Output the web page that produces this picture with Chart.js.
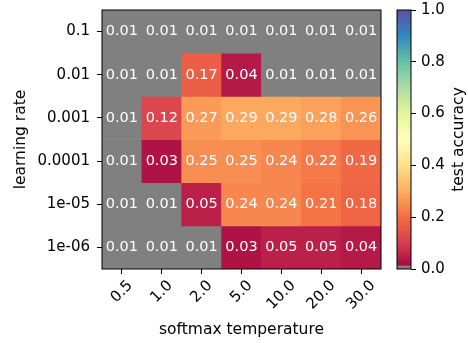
<!DOCTYPE html>
<html>
<head>
<meta charset="utf-8">
<script src="https://cdn.jsdelivr.net/npm/chart.js@4.4.1/dist/chart.umd.min.js"></script>
<style>
  html, body { margin: 0; padding: 0; background: #fff; }
  #wrap { position: relative; width: 468px; height: 343px; }
  #wrap canvas { position: absolute; left: 0; top: 0; }
</style>
</head>
<body>
<div id="wrap">
  <canvas id="heatmap" width="468" height="343"></canvas>
  <canvas id="colorbar" width="468" height="343"></canvas>
</div>
<script>
// columns / rows of the heatmap
var temperatures = ['0.5', '1.0', '2.0', '5.0', '10.0', '20.0', '30.0'];
var learningRates = ['0.1', '0.01', '0.001', '0.0001', '1e-05', '1e-06'];

// test accuracy, one array per learning rate (top row first)
var acc_lr_1e1 = [0.01, 0.01, 0.01, 0.01, 0.01, 0.01, 0.01];
var acc_lr_1e2 = [0.01, 0.01, 0.17, 0.04, 0.01, 0.01, 0.01];
var acc_lr_1e3 = [0.01, 0.12, 0.27, 0.29, 0.29, 0.28, 0.26];
var acc_lr_1e4 = [0.01, 0.03, 0.25, 0.25, 0.24, 0.22, 0.19];
var acc_lr_1e5 = [0.01, 0.01, 0.05, 0.24, 0.24, 0.21, 0.18];
var acc_lr_1e6 = [0.01, 0.01, 0.01, 0.03, 0.05, 0.05, 0.04];
var accuracy = [acc_lr_1e1, acc_lr_1e2, acc_lr_1e3, acc_lr_1e4, acc_lr_1e5, acc_lr_1e6];

var colorbarTicks = [0.0, 0.2, 0.4, 0.6, 0.8, 1.0];

// Spectral colormap, values below UNDER_LIMIT shown gray
var SPECTRAL = ['#9e0142', '#d53e4f', '#f46d43', '#fdae61', '#fee08b', '#ffffbf',
                '#e6f598', '#abdda4', '#66c2a5', '#3288bd', '#5e4fa2'];
var UNDER_LIMIT = 0.012;
var UNDER_COLOR = '#808080';
var FONT = { family: '"DejaVu Sans", sans-serif', size: 15 };
var TITLE_FONT = { family: '"DejaVu Sans", sans-serif', size: 15.5 };
var FONT_CSS = '15px "DejaVu Sans", sans-serif';
var TITLE_CSS = '15.5px "DejaVu Sans", sans-serif';
var CELL_CSS = '14.5px "DejaVu Sans", sans-serif';

Chart.defaults.color = '#000';

function hexToRgb(h) {
  return [parseInt(h.substr(1, 2), 16), parseInt(h.substr(3, 2), 16), parseInt(h.substr(5, 2), 16)];
}

function spectral(v) {
  v = Math.max(0, Math.min(1, v));
  var pos = v * (SPECTRAL.length - 1);
  var i = Math.floor(pos);
  if (i >= SPECTRAL.length - 1) return SPECTRAL[SPECTRAL.length - 1];
  var t = pos - i;
  var a = hexToRgb(SPECTRAL[i]);
  var b = hexToRgb(SPECTRAL[i + 1]);
  var c = a.map(function (x, k) { return Math.round(x + (b[k] - x) * t); });
  return 'rgb(' + c.join(',') + ')';
}

function cellColor(v) {
  return v < UNDER_LIMIT ? UNDER_COLOR : spectral(v);
}

// fixed axis sizes, no label overhang padding
function fixSize(prop, size) {
  return function (s) {
    s[prop] = size;
    s.paddingTop = 0;
    s.paddingBottom = 0;
    s.paddingLeft = 0;
    s.paddingRight = 0;
  };
}

var heatmapPlugin = {
  id: 'heatmapExtras',
  afterDatasetsDraw: function (chart) {
    var ctx = chart.ctx;
    var xs = chart.scales.x;
    var ys = chart.scales.y;
    ctx.save();
    ctx.font = CELL_CSS;
    ctx.fillStyle = '#fff';
    ctx.textAlign = 'center';
    ctx.textBaseline = 'middle';
    for (var r = 0; r < accuracy.length; r++) {
      for (var i = 0; i < accuracy[r].length; i++) {
        ctx.fillText(accuracy[r][i].toFixed(2), xs.getPixelForValue(i), ys.getPixelForValue(r));
      }
    }
    ctx.restore();
  },
  afterDraw: function (chart) {
    var ctx = chart.ctx;
    var a = chart.chartArea;
    var xs = chart.scales.x;
    ctx.save();
    ctx.strokeStyle = '#000';
    ctx.lineWidth = 1;
    ctx.strokeRect(a.left, a.top, a.right - a.left, a.bottom - a.top);

    // rotated, centred x tick labels
    ctx.font = FONT_CSS;
    ctx.fillStyle = '#000';
    ctx.textAlign = 'center';
    ctx.textBaseline = 'middle';
    temperatures.forEach(function (label, i) {
      var w = ctx.measureText(label).width;
      var half = (w + 15) * Math.SQRT1_2 / 2;
      ctx.save();
      ctx.translate(xs.getPixelForTick(i), a.bottom + 5 + 4 + half);
      ctx.rotate(-Math.PI / 4);
      ctx.fillText(label, 0, 0);
      ctx.restore();
    });
    ctx.restore();
  }
};

new Chart(document.getElementById('heatmap'), {
  type: 'bar',
  data: {
    labels: temperatures,
    datasets: accuracy.map(function (row, r) {
      return {
        data: row.map(function () { return [r - 0.5, r + 0.5]; }),
        backgroundColor: row.map(cellColor),
        borderWidth: 0,
        barPercentage: 1,
        categoryPercentage: 1,
        grouped: false
      };
    })
  },
  options: {
    responsive: false,
    animation: false,
    layout: { padding: { left: 0, top: 10, right: 87, bottom: 0 } },
    plugins: { legend: { display: false }, tooltip: { enabled: false } },
    scales: {
      x: {
        ticks: { display: true, minRotation: 0, maxRotation: 0, callback: function () { return ''; } },
        grid: { offset: false, drawOnChartArea: false, color: '#000', tickLength: 5 },
        border: { display: false },
        title: { display: true, text: 'softmax temperature', font: TITLE_FONT, color: '#000', padding: { top: 0, bottom: 4 } },
        afterFit: fixSize('height', 74)
      },
      y: {
        type: 'linear',
        reverse: true,
        min: -0.5,
        max: 5.5,
        afterBuildTicks: function (s) {
          s.ticks = learningRates.map(function (lr, r) { return { value: r }; });
        },
        ticks: {
          padding: 7,
          font: FONT,
          callback: function (v) { return learningRates[Math.round(v)]; }
        },
        grid: { drawOnChartArea: false, color: '#000', tickLength: 5 },
        border: { display: false },
        title: { display: true, text: 'learning rate', font: TITLE_FONT, color: '#000', padding: { top: 12, bottom: 0 } },
        afterFit: fixSize('width', 102)
      }
    }
  },
  plugins: [heatmapPlugin]
});

function colorbarGradient(context) {
  var chart = context.chart;
  var a = chart.chartArea;
  if (!a) return SPECTRAL[0];
  var ys = chart.scales.y;
  var g = chart.ctx.createLinearGradient(0, ys.getPixelForValue(0), 0, ys.getPixelForValue(1));
  SPECTRAL.forEach(function (c, i) { g.addColorStop(i / (SPECTRAL.length - 1), c); });
  return g;
}

var colorbarPlugin = {
  id: 'colorbarExtras',
  afterDraw: function (chart) {
    var ctx = chart.ctx;
    var a = chart.chartArea;
    ctx.save();
    ctx.strokeStyle = '#000';
    ctx.lineWidth = 1;
    ctx.strokeRect(a.left, a.top, a.right - a.left, a.bottom - a.top);
    ctx.font = TITLE_CSS;
    ctx.fillStyle = '#000';
    ctx.textAlign = 'center';
    ctx.textBaseline = 'middle';
    ctx.translate(459, (a.top + a.bottom) / 2);
    ctx.rotate(-Math.PI / 2);
    ctx.fillText('test accuracy', 0, 0);
    ctx.restore();
  }
};

new Chart(document.getElementById('colorbar'), {
  type: 'bar',
  data: {
    labels: [''],
    datasets: [
      { data: [[0, UNDER_LIMIT]], backgroundColor: UNDER_COLOR, borderWidth: 0,
        barPercentage: 1, categoryPercentage: 1, grouped: false },
      { data: [[0, 1]], backgroundColor: colorbarGradient, borderWidth: 0,
        barPercentage: 1, categoryPercentage: 1, grouped: false }
    ]
  },
  options: {
    responsive: false,
    animation: false,
    layout: { padding: { left: 397, top: 10, right: 0, bottom: 74 } },
    plugins: { legend: { display: false }, tooltip: { enabled: false } },
    scales: {
      x: { display: false },
      y: {
        position: 'right',
        min: colorbarTicks[0],
        max: colorbarTicks[colorbarTicks.length - 1],
        afterBuildTicks: function (s) {
          s.ticks = colorbarTicks.map(function (v) { return { value: v }; });
        },
        ticks: {
          padding: 5,
          font: FONT,
          callback: function (v) { return Number(v).toFixed(1); }
        },
        grid: { drawOnChartArea: false, color: '#000', tickLength: 5 },
        border: { display: false },
        afterFit: fixSize('width', 57)
      }
    }
  },
  plugins: [colorbarPlugin]
});
</script>
</body>
</html>
